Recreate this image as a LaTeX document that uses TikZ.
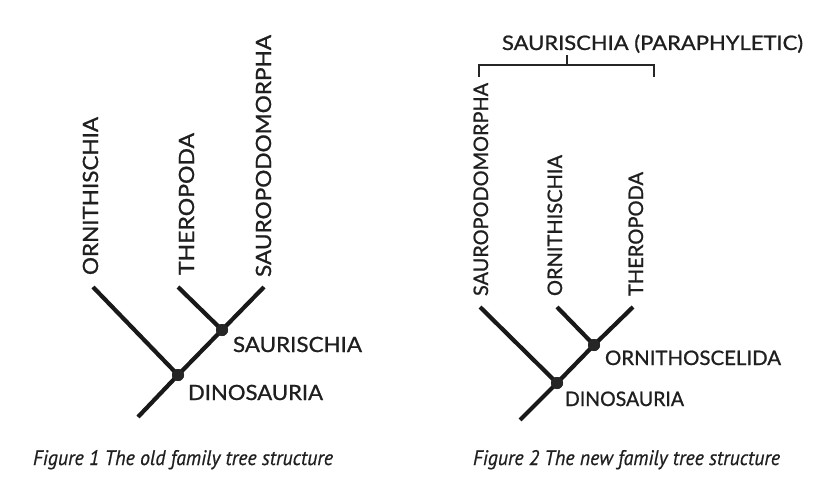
\documentclass[tikz,border=0pt]{standalone}
\usepackage{fontspec}
\setmainfont{Lato}[FakeBold=0.9]
\newfontfamily\capfont{PT Sans}[FakeBold=0.6]
\newcommand\fitw[2]{\resizebox{#1pt}{\height}{#2}}
\begin{document}
\begin{tikzpicture}[x=1pt,y=1pt,
  branch/.style={line width=4.2pt, draw=black!90},
  dotnode/.style={circle, fill=black!85, inner sep=0pt, minimum size=12pt},
  lblL/.style={inner sep=0pt, outer sep=0pt, font=\fontsize{21}{21}\selectfont, text=black!88},
  lblR/.style={inner sep=0pt, outer sep=0pt, font=\fontsize{20}{20}\selectfont, text=black!88},
  capn/.style={inner sep=0pt, outer sep=0pt, anchor=base west, font=\capfont\itshape\fontsize{21}{21}\selectfont, text=black!88},
  brk/.style={line width=1.6pt, draw=black!85}]
\useasboundingbox[fill=white] (0,0) rectangle (840,496);

% ---------- Figure 1 ----------
\coordinate (o1) at (93,209);
\coordinate (t1) at (178,209);
\coordinate (s1) at (264,209);
\coordinate (r1) at (138,79);
\node[dotnode] (d1) at (178,121) {};
\node[dotnode] (sa1) at (222,166) {};
\draw[branch] (r1) -- (d1.center) -- (o1);
\draw[branch] (d1.center) -- (sa1.center) -- (s1);
\draw[branch] (sa1.center) -- (t1);
\node[dotnode] at (d1) {};
\node[dotnode] at (sa1) {};

\node[lblL, rotate=90, anchor=base west] (lo1) at (98,221) {\fitw{158}{ORNITHISCHIA}};
\node[lblL, rotate=90, anchor=base west] (lt1) at (194,221) {\fitw{142}{THEROPODA}};
\node[lblL, rotate=90, anchor=base west] (ls1) at (271,219) {\fitw{242}{SAUROPODOMORPHA}};
\node[lblL, anchor=base west] (lsa1) at (233,144) {\fitw{129}{SAURISCHIA}};
\node[lblL, anchor=base west] (ld1) at (188,96) {\fitw{135}{DINOSAURIA}};

\node[capn] (cap1) at (33,31) {\fitw{300}{Figure 1 The old family tree structure}};

% ---------- Figure 2 ----------
\coordinate (s2) at (480,189);
\coordinate (o2) at (557,189);
\coordinate (t2) at (633,189);
\coordinate (r2) at (520,76);
\node[dotnode] (d2) at (557,113) {};
\node[dotnode] (or2) at (594,151) {};
\draw[branch] (r2) -- (d2.center) -- (s2);
\draw[branch] (d2.center) -- (or2.center) -- (t2);
\draw[branch] (or2.center) -- (o2);
\node[dotnode] at (d2) {};
\node[dotnode] at (or2) {};

\node[lblR, rotate=90, anchor=base west] (ls2) at (488,200) {\fitw{213}{SAUROPODOMORPHA}};
\node[lblR, rotate=90, anchor=base west] (lo2) at (562,200) {\fitw{141}{ORNITHISCHIA}};
\node[lblR, rotate=90, anchor=base west] (lt2) at (643,200) {\fitw{124}{THEROPODA}};
\node[lblR, anchor=base west] (lor2) at (605,131) {\fitw{176}{ORNITHOSCELIDA}};
\node[lblR, anchor=base west] (ld2) at (565,90) {\fitw{119}{DINOSAURIA}};

% bracket
\coordinate (bl) at (479,419);
\coordinate (br) at (654,419);
\coordinate (bm) at (567,431);
\draw[brk] (bl) |- (br |- bm) -- (br);
\draw[brk] (bm) -- ++(0,10) coordinate (bt);
\node[lblR, anchor=base west] (ltitle) at (502,446) {\fitw{301}{SAURISCHIA (PARAPHYLETIC)}};

\node[capn] (cap2) at (473,31) {\fitw{307}{Figure 2 The new family tree structure}};
\end{tikzpicture}
\end{document}
